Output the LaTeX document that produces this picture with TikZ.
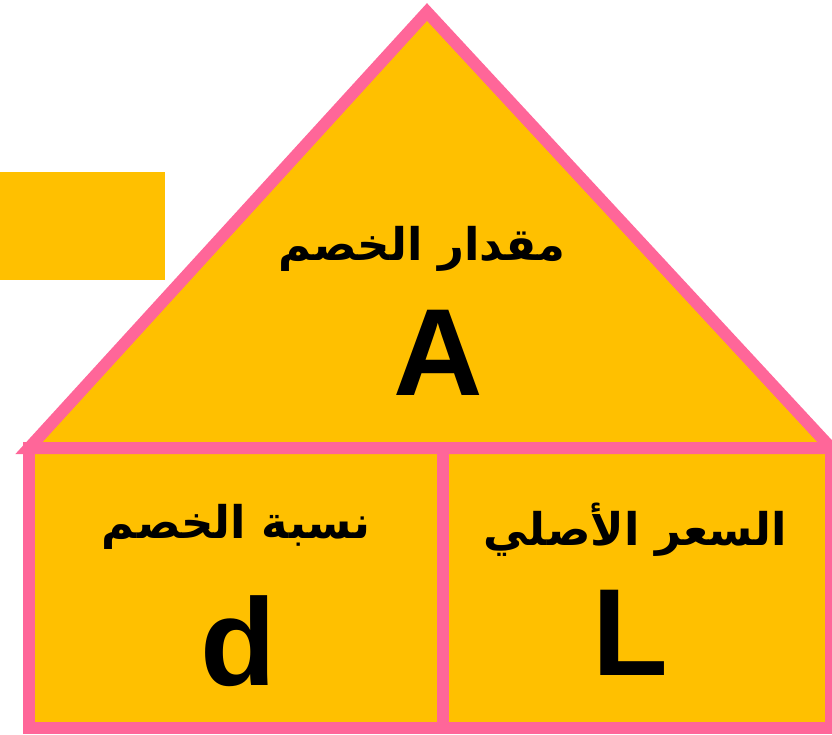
\documentclass[tikz,border=0pt]{standalone}
\usepackage{fontspec}
\setmainfont{Liberation Sans}
\newfontfamily\arabicfont[Script=Arabic]{DejaVu Sans}
\TeXXeTstate=1
\definecolor{gold}{HTML}{FFC000}
\definecolor{rosepink}{HTML}{FF6699}
\begin{document}
\begin{tikzpicture}[x=1pt,y=-1pt,
  edge/.style={draw=rosepink,line width=12pt},
  artext/.style={font=\arabicfont\bfseries\fontsize{45}{50}\selectfont,anchor=base,inner sep=0pt},
  bigletter/.style={font=\bfseries\fontsize{124}{130}\selectfont,anchor=base,inner sep=0pt}]
\useasboundingbox (0,0) rectangle (832,734);
\fill[gold] (0,172) rectangle (165,280);
\coordinate (bl) at (29,448);
\coordinate (apex) at (427,12);
\coordinate (br) at (831,448);
\coordinate (dbl) at (29,728);
\coordinate (dbr) at (831,728);
\coordinate (mt) at (443,448);
\coordinate (mb) at (443,728);
\fill[gold] (bl) -- (apex) -- (br) -- cycle;
\fill[gold] (bl) rectangle (dbr);
\draw[edge] (bl) -- (apex) -- (br) -- cycle;
\draw[edge] (bl) rectangle (dbr);
\draw[edge] (mt) -- (mb);
\node[artext] (t1) at (422,260) {\beginR مقدار الخصم\endR};
\node[bigletter] (a) at (438,395) {A};
\node[artext] (t2) at (236,538) {\beginR نسبة الخصم\endR};
\node[bigletter] (d) at (238,685) {d};
\node[artext] (t3) at (635,545) {\beginR السعر الأصلي\endR};
\node[bigletter] (l) at (630,675) {L};
\end{tikzpicture}
\end{document}
